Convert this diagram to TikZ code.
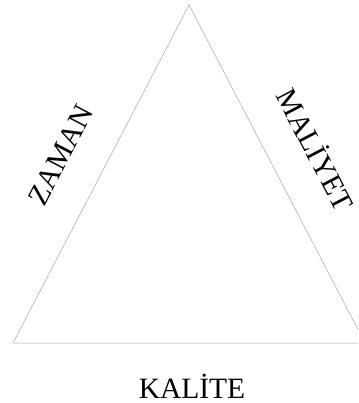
\documentclass[tikz,border=0pt]{standalone}
\usepackage{fontspec}
\setmainfont{Liberation Serif}
\usepackage{tikz}
\usetikzlibrary{positioning}
\tikzset{
	sidetext/.style={font=\fontsize{29.5}{31}\selectfont, inner sep=0pt}
}
\tikzset{
	edge/.style={draw=gray!70, line width=0.5pt}
}

\begin{document}
\begin{tikzpicture}[x=1pt, y=-1pt]
      \useasboundingbox (0,0) rectangle (358,403);
      \clip (0,0) rectangle (358,403);
      \coordinate (top) at (189,5);
      \coordinate (bl) at (13,343);
      \coordinate (br) at (365,343);
      \draw[edge] (top) -- (bl) -- (br) -- cycle;
      \node[sidetext, rotate=62.5] (zaman) at (61,155) {ZAMAN};
      \node[sidetext, rotate=-62.5] (maliyet) at (317,149) {MALİYET};
      \node[sidetext] (kalite) at (192,386) {KALİTE};
    \end{tikzpicture}
\end{document}
